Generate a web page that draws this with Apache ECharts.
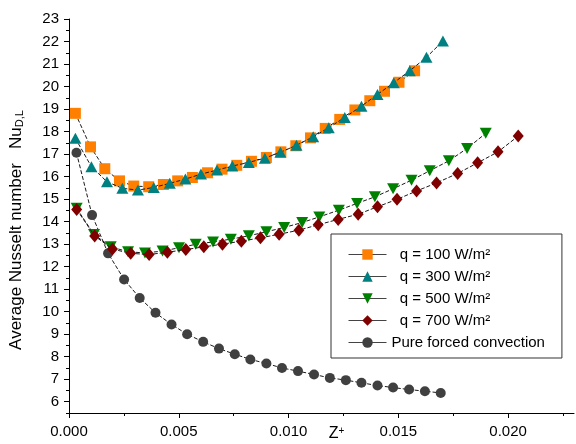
<!DOCTYPE html>
<html><head><meta charset="utf-8">
<script src="https://cdn.jsdelivr.net/npm/echarts@6/dist/echarts.min.js"></script>
<style>html,body{margin:0;padding:0;background:#fff}#c{width:576px;height:444px}</style>
</head><body><div id="c"></div>
<script>
const FONT = '"Liberation Sans", Arial, sans-serif';

const seriesNames = ['q = 100 W/m²', 'q = 300 W/m²', 'q = 500 W/m²', 'q = 700 W/m²', 'Pure forced convection'];

const zQ100 = [0.00029,0.00098,0.00163,0.00230,0.00295,0.00363,0.00430,0.00495,0.00562,0.00631,0.00697,0.00764,0.00831,0.00899,0.00965,0.01033,0.01100,0.01167,0.01233,0.01302,0.01370,0.01437,0.01503,0.01574];
const nuQ100 = [18.81,17.32,16.35,15.81,15.58,15.55,15.65,15.81,15.96,16.17,16.33,16.50,16.68,16.85,17.10,17.37,17.72,18.14,18.54,18.96,19.37,19.79,20.19,20.70];

const zQ300 = [0.00029,0.00102,0.00173,0.00243,0.00314,0.00386,0.00459,0.00530,0.00601,0.00674,0.00744,0.00819,0.00892,0.00963,0.01036,0.01112,0.01183,0.01256,0.01332,0.01405,0.01479,0.01552,0.01628,0.01703];
const nuQ300 = [17.70,16.44,15.77,15.48,15.40,15.52,15.70,15.89,16.11,16.29,16.47,16.63,16.82,17.08,17.39,17.77,18.17,18.63,19.13,19.65,20.17,20.70,21.30,22.02];

const zQ500 = [0.00035,0.00114,0.00190,0.00269,0.00346,0.00426,0.00501,0.00577,0.00656,0.00737,0.00819,0.00899,0.00980,0.01062,0.01140,0.01229,0.01312,0.01393,0.01476,0.01560,0.01643,0.01730,0.01813,0.01898];
const nuQ500 = [14.59,13.43,12.88,12.66,12.61,12.69,12.84,12.99,13.10,13.22,13.37,13.55,13.74,13.96,14.21,14.51,14.81,15.10,15.46,15.84,16.26,16.70,17.25,17.92];

const zQ700 = [0.00035,0.00117,0.00198,0.00281,0.00365,0.00448,0.00532,0.00614,0.00699,0.00785,0.00872,0.00957,0.01047,0.01135,0.01226,0.01317,0.01405,0.01494,0.01583,0.01674,0.01770,0.01861,0.01954,0.02046];
const nuQ700 = [14.54,13.36,12.78,12.59,12.54,12.64,12.76,12.88,13.00,13.13,13.28,13.44,13.62,13.86,14.10,14.33,14.66,14.99,15.36,15.72,16.14,16.61,17.10,17.80];

const zPure = [0.00034,0.00105,0.00178,0.00251,0.00322,0.00394,0.00467,0.00538,0.00611,0.00683,0.00755,0.00826,0.00899,0.00970,0.01043,0.01116,0.01188,0.01261,0.01332,0.01405,0.01476,0.01549,0.01621,0.01693];
const nuPure = [17.06,14.29,12.59,11.43,10.61,9.95,9.43,9.00,8.66,8.36,8.11,7.88,7.70,7.50,7.36,7.21,7.06,6.96,6.84,6.72,6.63,6.54,6.47,6.39];

const xMajorTicks = [0, 0.005, 0.010, 0.015, 0.020];
const xMinorTicks = [0.0025, 0.0075, 0.0125, 0.0175, 0.0225];
const yMajorTicks = [6,7,8,9,10,11,12,13,14,15,16,17,18,19,20,21,22,23];
const yMinorTicks = [5.5,6.5,7.5,8.5,9.5,10.5,11.5,12.5,13.5,14.5,15.5,16.5,17.5,18.5,19.5,20.5,21.5,22.5];

const zip = (a, b) => a.map((v, i) => [v, b[i]]);
const lineStyle = {color: '#1a1a1a', width: 1, type: [4, 2]};

const chart = echarts.init(document.getElementById('c'), null, {renderer: 'canvas'});
chart.setOption({
  animation: false,
  backgroundColor: '#fff',
  textStyle: {fontFamily: FONT},
  grid: {left: 69, right: 2, top: 19, bottom: 31, containLabel: false, outerBoundsMode: 'none'},
  xAxis: [{
    type: 'value', min: 0, max: 0.023, position: 'bottom',
    axisLine: {show: true, onZero: false, lineStyle: {color: '#000', width: 1}},
    splitLine: {show: false},
    axisTick: {show: true, inside: false, length: 5, customValues: xMajorTicks, lineStyle: {color: '#000'}},
    axisLabel: {customValues: xMajorTicks, formatter: v => v.toFixed(3), fontSize: 15, color: '#000', margin: 11, fontFamily: FONT},
    name: '{z|Z}{p|+}', nameLocation: 'middle', nameGap: 13, nameMoveOverlap: false,
    nameTextStyle: {padding: [0, 0, 0, 30], rich: {z: {fontSize: 16, fontFamily: FONT, color: '#000'}, p: {fontSize: 10, fontFamily: FONT, color: '#000', verticalAlign: 'top'}}}
  }, {
    type: 'value', min: 0, max: 0.023, position: 'bottom',
    axisLine: {show: false}, splitLine: {show: false}, axisLabel: {show: false},
    axisTick: {show: true, inside: false, length: 3, customValues: xMinorTicks, lineStyle: {color: '#000'}}
  }],
  yAxis: [{
    type: 'value', min: 5.5, max: 23, position: 'left',
    axisLine: {show: true, onZero: false, lineStyle: {color: '#000', width: 1}},
    splitLine: {show: false},
    axisTick: {show: true, inside: false, length: 5, customValues: yMajorTicks, lineStyle: {color: '#000'}},
    axisLabel: {customValues: yMajorTicks, fontSize: 15, color: '#000', margin: 10, fontFamily: FONT},
    name: '{t|Average Nusselt number   Nu}{s|D,L}', nameLocation: 'middle', nameGap: 44, nameMoveOverlap: false,
    nameTextStyle: {padding: [0, 28, 0, 0], rich: {t: {fontSize: 17, fontFamily: FONT, color: '#000'}, s: {fontSize: 11, fontFamily: FONT, color: '#000', verticalAlign: 'bottom'}}}
  }, {
    type: 'value', min: 5.5, max: 23, position: 'left',
    axisLine: {show: false}, splitLine: {show: false}, axisLabel: {show: false},
    axisTick: {show: true, inside: false, length: 3, customValues: yMinorTicks, lineStyle: {color: '#000'}}
  }],
  legend: {
    orient: 'vertical', left: 331, top: 234,
    padding: [12, 17, 7, 17], itemGap: 5, itemWidth: 38, itemHeight: 13,
    borderColor: '#333', borderWidth: 1, backgroundColor: '#fff',
    textStyle: {fontSize: 15, lineHeight: 17, color: '#000', fontFamily: FONT},
    lineStyle: {color: '#444', type: 'solid', width: 1},
    formatter: n => n.startsWith('q') ? '  ' + n : n,
    data: seriesNames
  },
  series: [
    {name: seriesNames[0], type: 'line', data: zip(zQ100, nuQ100), symbol: 'rect', symbolSize: 11, itemStyle: {color: '#FF8000', borderWidth: 0}, lineStyle, z: 3},
    {name: seriesNames[1], type: 'line', data: zip(zQ300, nuQ300), symbol: 'triangle', symbolSize: [12, 11], itemStyle: {color: '#008080', borderWidth: 0}, lineStyle, z: 4},
    {name: seriesNames[2], type: 'line', data: zip(zQ500, nuQ500), symbol: 'triangle', symbolRotate: 180, symbolSize: [12, 11], itemStyle: {color: '#008000', borderWidth: 0}, lineStyle, z: 3},
    {name: seriesNames[3], type: 'line', data: zip(zQ700, nuQ700), symbol: 'diamond', symbolSize: [11, 13], itemStyle: {color: '#800000', borderWidth: 0}, lineStyle, z: 4},
    {name: seriesNames[4], type: 'line', data: zip(zPure, nuPure), symbol: 'circle', symbolSize: 10, itemStyle: {color: '#404040', borderWidth: 0}, lineStyle, z: 2}
  ]
});
</script></body></html>
